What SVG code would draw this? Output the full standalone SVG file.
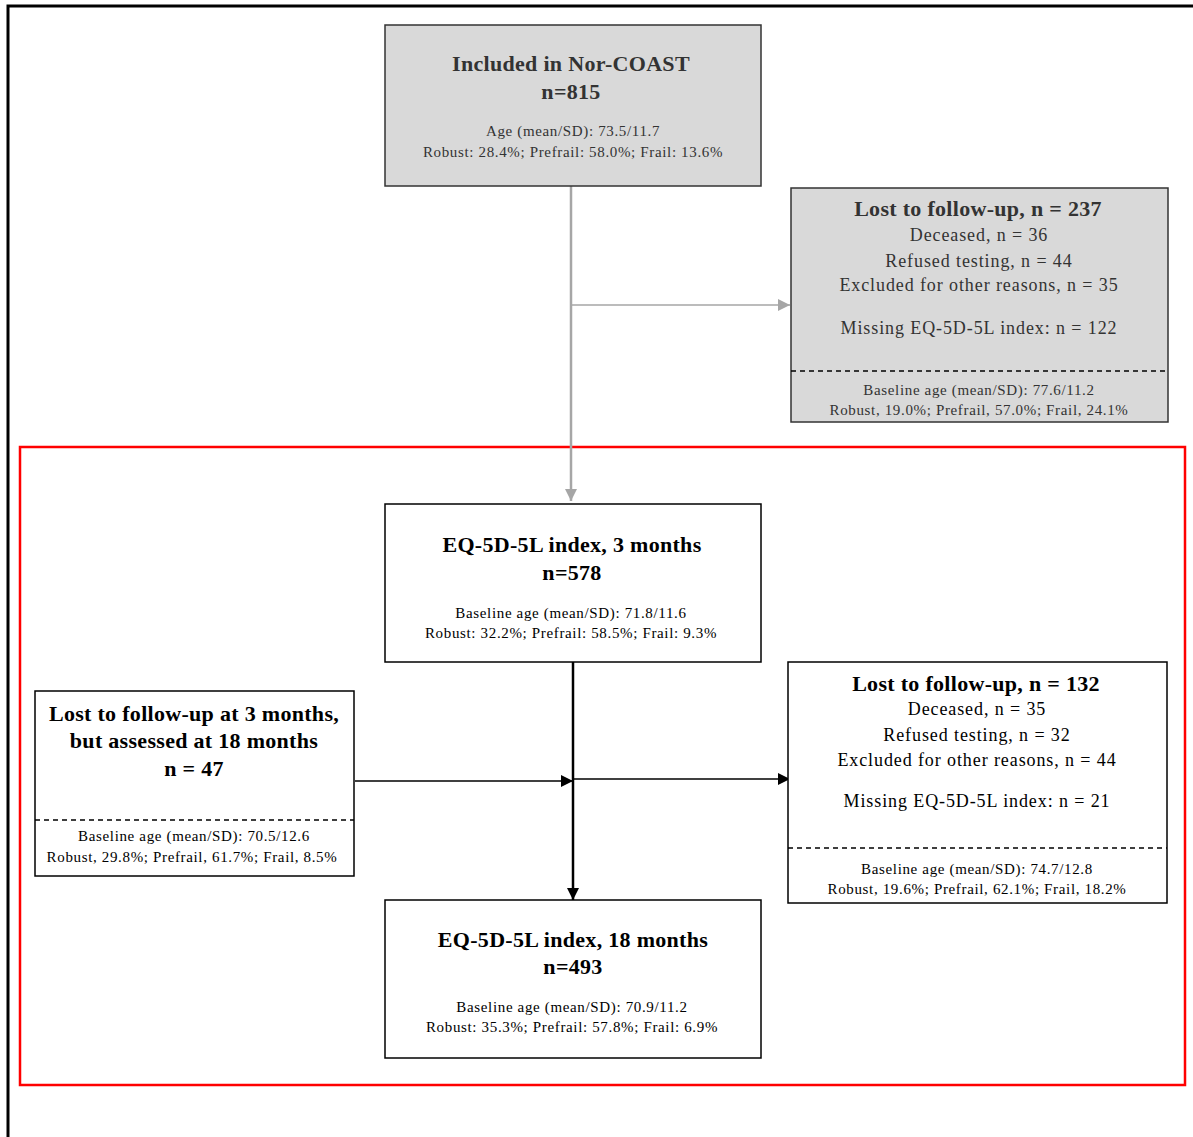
<svg xmlns="http://www.w3.org/2000/svg" width="1193" height="1137" viewBox="0 0 1193 1137">
<defs>
<style>
text{font-family:"Liberation Serif","Times New Roman",serif;text-anchor:middle;}
.t{font-size:22px;font-weight:bold;letter-spacing:0.3px;}
.m{font-size:18px;letter-spacing:0.9px;}
.s{font-size:15px;letter-spacing:0.65px;}
.g text{fill:#333;}
.box{stroke:#000;stroke-width:1.5;}
.grey{fill:#d9d9d9;stroke:#333;stroke-width:1.5;}
.dash{stroke:#000;stroke-width:1.5;stroke-dasharray:5,4;fill:none;}
</style>
<marker id="ag" viewBox="0 0 10 10" refX="10" refY="5" markerWidth="12" markerHeight="12" markerUnits="userSpaceOnUse" orient="auto"><path d="M0,0 L10,5 L0,10 z" fill="#a6a6a6"/></marker>
<marker id="ab" viewBox="0 0 10 10" refX="10" refY="5" markerWidth="12" markerHeight="12" markerUnits="userSpaceOnUse" orient="auto"><path d="M0,0 L10,5 L0,10 z" fill="#000"/></marker>
</defs>
<rect width="1193" height="1137" fill="#fff"/>
<path d="M8,1137 V6 H1193" fill="none" stroke="#000" stroke-width="3"/>
<rect x="20" y="447" width="1165" height="638" fill="none" stroke="#f00" stroke-width="2.5"/>

<g id="connectors">
<line x1="571" y1="186" x2="571" y2="501" stroke="#a6a6a6" stroke-width="2.5" marker-end="url(#ag)"/>
<line x1="571" y1="305" x2="790" y2="305" stroke="#a6a6a6" stroke-width="1.5" marker-end="url(#ag)"/>
<line x1="573" y1="662" x2="573" y2="900" stroke="#000" stroke-width="2.5" marker-end="url(#ab)"/>
<line x1="355" y1="781" x2="573" y2="781" stroke="#000" stroke-width="1.5" marker-end="url(#ab)"/>
<line x1="573" y1="779" x2="790" y2="779" stroke="#000" stroke-width="1.5" marker-end="url(#ab)"/>
</g>

<g id="included" class="g">
<rect class="grey" x="385" y="25" width="376" height="161"/>
<text class="t" x="571" y="71">Included in Nor-COAST</text>
<text class="t" x="571" y="99">n=815</text>
<text class="s" x="573" y="136">Age (mean/SD): 73.5/11.7</text>
<text class="s" x="573" y="157">Robust: 28.4%; Prefrail: 58.0%; Frail: 13.6%</text>
</g>

<g id="lost1" class="g">
<rect class="grey" x="791" y="188" width="377" height="234"/>
<line class="dash" x1="791" y1="371" x2="1168" y2="371"/>
<text class="t" x="978" y="216">Lost to follow-up, n = 237</text>
<text class="m" x="979" y="241">Deceased, n = 36</text>
<text class="m" x="979" y="267">Refused testing, n = 44</text>
<text class="m" x="979" y="291">Excluded for other reasons, n = 35</text>
<text class="m" x="979" y="334">Missing EQ-5D-5L index: n = 122</text>
<text class="s" x="979" y="395">Baseline age (mean/SD): 77.6/11.2</text>
<text class="s" x="979" y="415">Robust, 19.0%; Prefrail, 57.0%; Frail, 24.1%</text>
</g>

<g id="eq3">
<rect class="box" x="385" y="504" width="376" height="158" fill="#fff"/>
<text class="t" x="572" y="552">EQ-5D-5L index, 3 months</text>
<text class="t" x="572" y="580">n=578</text>
<text class="s" x="571" y="618">Baseline age (mean/SD): 71.8/11.6</text>
<text class="s" x="571" y="638">Robust: 32.2%; Prefrail: 58.5%; Frail: 9.3%</text>
</g>

<g id="lost3">
<rect class="box" x="35" y="691" width="319" height="185" fill="#fff"/>
<line class="dash" x1="35" y1="820" x2="354" y2="820"/>
<text class="t" x="194" y="721">Lost to follow-up at 3 months,</text>
<text class="t" x="194" y="748">but assessed at 18 months</text>
<text class="t" x="194" y="776">n = 47</text>
<text class="s" x="194" y="841">Baseline age (mean/SD): 70.5/12.6</text>
<text class="s" x="192" y="862">Robust, 29.8%; Prefrail, 61.7%; Frail, 8.5%</text>
</g>

<g id="lost2">
<rect class="box" x="788" y="662" width="379" height="241" fill="#fff"/>
<line class="dash" x1="788" y1="848" x2="1167" y2="848"/>
<text class="t" x="976" y="691">Lost to follow-up, n = 132</text>
<text class="m" x="977" y="715">Deceased, n = 35</text>
<text class="m" x="977" y="741">Refused testing, n = 32</text>
<text class="m" x="977" y="766">Excluded for other reasons, n = 44</text>
<text class="m" x="977" y="807">Missing EQ-5D-5L index: n = 21</text>
<text class="s" x="977" y="874">Baseline age (mean/SD): 74.7/12.8</text>
<text class="s" x="977" y="894">Robust, 19.6%; Prefrail, 62.1%; Frail, 18.2%</text>
</g>

<g id="eq18">
<rect class="box" x="385" y="900" width="376" height="158" fill="#fff"/>
<text class="t" x="573" y="947">EQ-5D-5L index, 18 months</text>
<text class="t" x="573" y="974">n=493</text>
<text class="s" x="572" y="1012">Baseline age (mean/SD): 70.9/11.2</text>
<text class="s" x="572" y="1032">Robust: 35.3%; Prefrail: 57.8%; Frail: 6.9%</text>
</g>
</svg>
